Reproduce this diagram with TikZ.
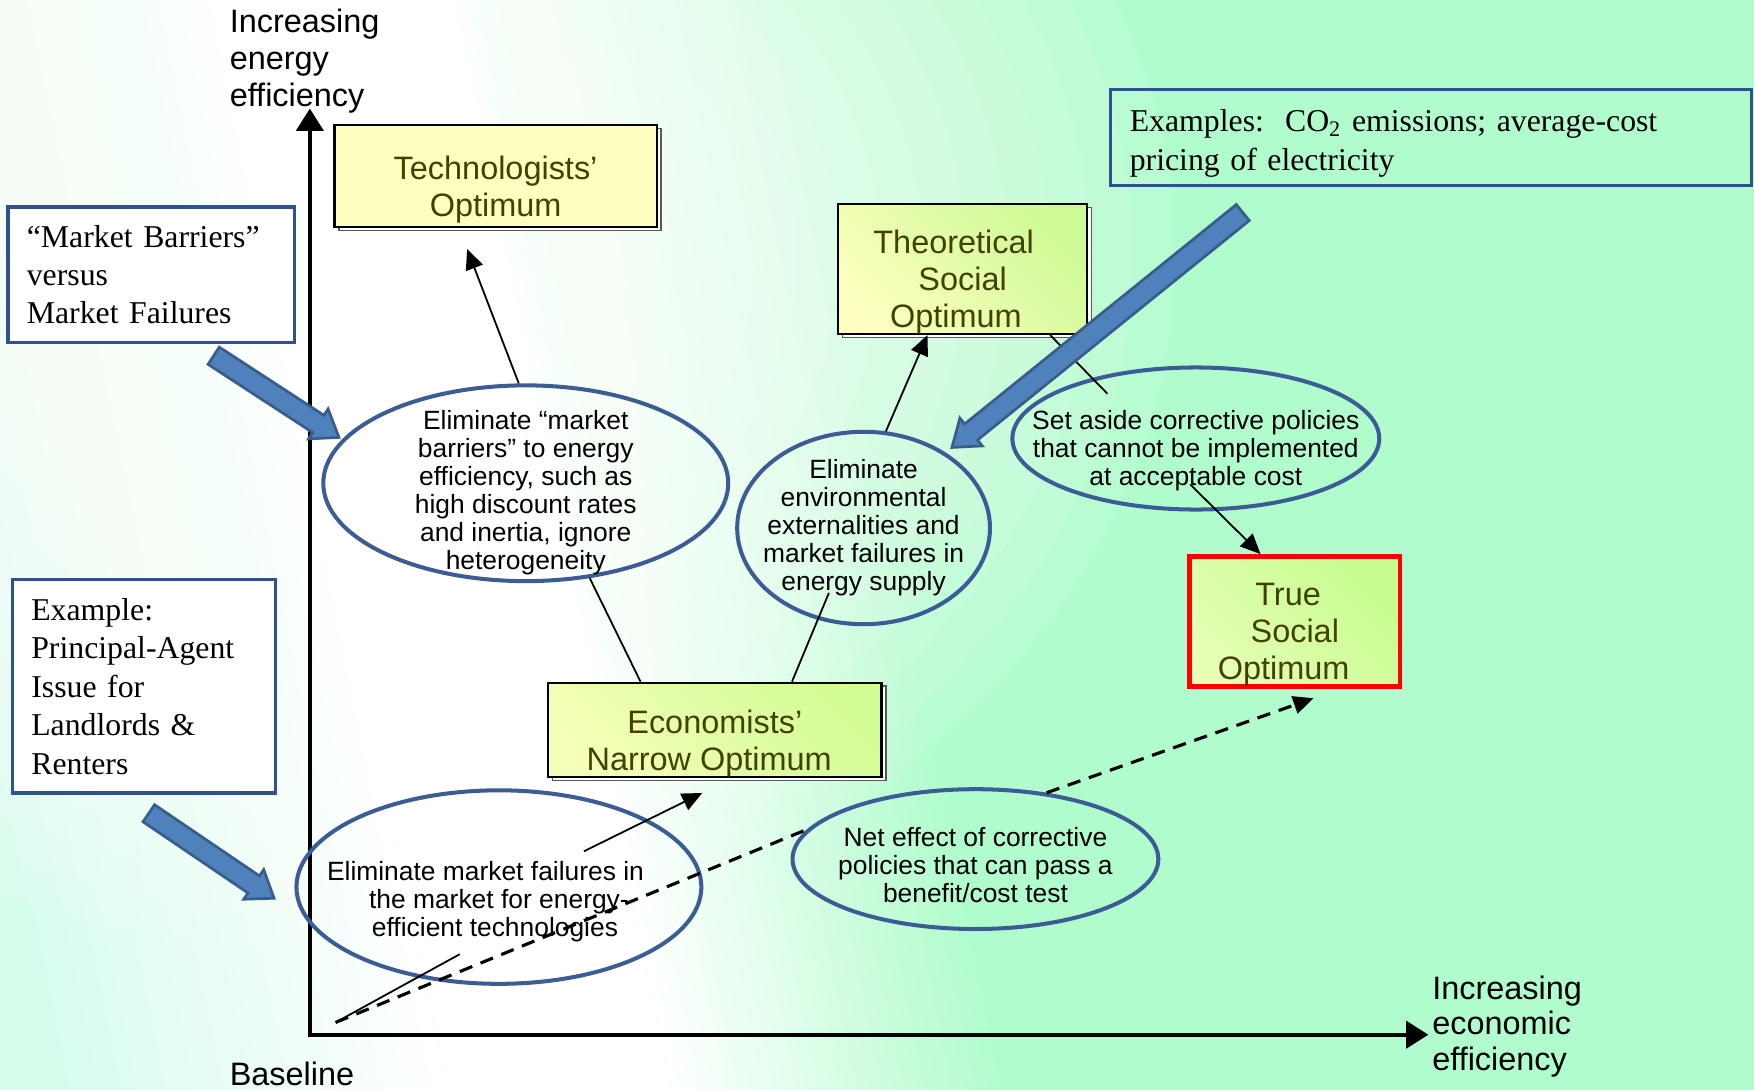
\documentclass[tikz,border=0pt]{standalone}
\usepackage{fontspec}
\setmainfont{Liberation Sans}
\newfontfamily\timesfont[Ligatures=TeX]{Liberation Serif}
\usepackage{tikz}
\usetikzlibrary{positioning,shapes.geometric,arrows.meta,calc,shadows}

\definecolor{bggreen}{RGB}{176,252,204}
\definecolor{bgcyan}{RGB}{214,252,236}
\definecolor{boxblue}{RGB}{47,82,143}
\definecolor{ellblue}{RGB}{60,92,150}
\definecolor{arrfill}{RGB}{79,129,189}
\definecolor{arrline}{RGB}{56,93,138}
\definecolor{opttext}{RGB}{66,66,0}
\definecolor{techfill}{RGB}{255,255,192}
\definecolor{theolo}{RGB}{252,255,190}
\definecolor{theohi}{RGB}{206,250,150}
\definecolor{econlo}{RGB}{244,255,184}
\definecolor{econhi}{RGB}{210,252,150}
\definecolor{truelo}{RGB}{230,255,180}
\definecolor{truehi}{RGB}{198,252,144}

% extra height on a first line pushes the text block down
\newcommand{\padtop}[1]{\rule{0pt}{#1}}

% fat block arrow from #1 to #2
\newcommand{\fatarrow}[2]{%
  \path ($(#2)!11pt!(#1)$) coordinate (fah);
  \draw[fatarr] ($(#1)!4.6pt!90:(#2)$) -- ($(fah)!4.6pt!90:(#2)$)
    -- ($(fah)!8pt!90:(#2)$) -- (#2) -- ($(fah)!8pt!-90:(#2)$)
    -- ($(fah)!4.6pt!-90:(#2)$) -- ($(#1)!4.6pt!-90:(#2)$) -- cycle;}

\tikzset{
  % --- axes and their labels -------------------------------------------------
  axisline/.style={line width=2pt,line join=miter,
    {Triangle[length=10pt,width=12pt]}-{Triangle[length=10pt,width=12pt]}},
  axlab/.style={align=left,inner sep=0pt,anchor=north west,
    font=\fontsize{14.5}{16.5}\selectfont},
  % --- optimum boxes ---------------------------------------------------------
  optcore/.style={rectangle,draw=black,line width=1pt,inner sep=0pt,
    align=center,text=opttext,font=\fontsize{14.5}{16.5}\selectfont},
  optbox/.style={optcore,copy shadow={shadow xshift=2pt,shadow yshift=-1.5pt,
    draw=black!65,line width=0.6pt,fill=white}},
  truebox/.style={optcore,draw=red,line width=2.2pt},
  optgrad/.style 2 args={bottom color=#1,top color=#2,shading angle=-45},
  % --- side notes ------------------------------------------------------------
  notebox/.style={rectangle,draw=boxblue,line width=1.5pt,inner xsep=8.5pt,
    inner ysep=0pt,align=left,font=\fontsize{14.2}{17.2}\timesfont},
  % --- policy ellipses -------------------------------------------------------
  ell/.style={ellipse,draw=ellblue,line width=1.8pt,inner sep=-25pt,
    align=center,font=\fontsize{11.8}{12.5}\selectfont},
  % --- connectors ------------------------------------------------------------
  link/.style={line width=0.8pt},
  linkarr/.style={link,-{Triangle[length=9pt,width=8pt]}},
  dashlink/.style={line width=1.4pt,dash pattern=on 6pt off 4pt},
  dasharr/.style={dashlink,-{Triangle[length=9pt,width=8pt]}},
  fatarr/.style={fill=arrfill,draw=arrline,line width=1.2pt,line join=miter},
}

\begin{document}
\begin{tikzpicture}[x=0.5pt,y=-0.5pt]
  \useasboundingbox (0,0) rectangle (1568,974);

  % background wash: cyan - white band - green, plus a white glow top left
  \begin{scope}
    \clip (0,0) rectangle (1568,974);
    \fill[bggreen] (0,0) rectangle (1568,974);
    \begin{scope}[transform canvas={shift={(300,0)},rotate=11.6}]
      \fill[bgcyan] (-3000,-2500) rectangle (-441,2500);
      \shade[left color=bgcyan,right color=white] (-441,-2500) rectangle (-98,2500);
      \fill[white] (-98,-2500) rectangle (98,2500);
      \shade[left color=white,right color=bggreen] (98,-2500) rectangle (392,2500);
    \end{scope}
    \coordinate (glowc) at (300,230);
    \foreach \k in {1,...,20}
      \fill[white,opacity=0.1] (glowc) ellipse [x radius=37.5*\k, y radius=31*\k];
  \end{scope}

  % axes
  \coordinate (orig) at (277,925);
  \coordinate (ytip) at (277,97);
  \coordinate (xtip) at (1277,925);
  \draw[axisline] (ytip) -- (orig) -- (xtip);
  \node[axlab] (ylab) at (205,8) {Increasing\\energy\\efficiency};
  \node[axlab,font=\fontsize{14.5}{15.8}\selectfont] (xlab) at (1280,872)
    {Increasing\\economic\\efficiency};
  \node[axlab] (baselab) at (205,949) {Baseline};

  % optimum boxes
  \node[optbox,fill=techfill,minimum width=144pt,minimum height=45.5pt]
    (tech) at (443,157.5) {\padtop{22.6pt}Technologists'\\Optimum};
  \node[optbox,optgrad={theolo}{theohi},minimum width=111.5pt,minimum height=57.5pt]
    (theo) at (860.5,240.5) {\padtop{22pt}Theoretical\hspace*{8pt}\\Social\hspace*{6pt}\\Optimum\hspace*{6pt}};
  \node[optbox,optgrad={econlo}{econhi},minimum width=149pt,minimum height=40.5pt]
    (econ) at (639,652.5) {\padtop{22.6pt}Economists'\\Narrow Optimum\hspace*{5pt}};
  \node[truebox,optgrad={truelo}{truehi},minimum width=94pt,minimum height=56pt]
    (truesoc) at (1157.5,555.5) {\padtop{22pt}True\hspace*{6pt}\\Social\hspace*{10pt}\\Optimum\hspace*{10pt}};

  % side notes
  \node[notebox,fill=white,text width=111pt,minimum height=60.5pt]
    (mbbox) at (135,245.5) {``Market Barriers''\\versus\\Market Failures};
  \node[notebox,fill=white,text width=100.5pt,minimum height=95.5pt]
    (exbox) at (128.5,613.5) {Example:\\Principal-Agent\\Issue for\\Landlords \&\\Renters};
  \node[notebox,text width=269.5pt,minimum height=43pt]
    (co2box) at (1279.5,123)
    {\padtop{15pt}Examples:\ \ CO\textsubscript{2} emissions; average-cost\\pricing of electricity};

  % policy ellipses
  \node[ell,minimum width=181pt,minimum height=87.5pt] (e1) at (470,432)
    {\padtop{17.1pt}Eliminate ``market\\barriers'' to energy\\efficiency, such as\\
     high discount rates\\and inertia, ignore\\heterogeneity};
  \node[ell,minimum width=113pt,minimum height=86pt] (e2) at (772,472)
    {Eliminate\\environmental\\externalities and\\market failures in\\energy supply};
  \node[ell,minimum width=164pt,minimum height=63.5pt] (e3) at (1069,392)
    {\padtop{19.6pt}Set aside corrective policies\\that cannot be implemented\\at acceptable cost};
  \node[ell,minimum width=181pt,minimum height=86.5pt] (e4) at (446,793)
    {\padtop{21.6pt}Eliminate market failures in\hspace*{12pt}\\
     the market for energy-\hspace*{18pt}\\efficient technologies\hspace*{3.5pt}};
  \node[ell,minimum width=163.5pt,minimum height=62.5pt] (e5) at (872,768)
    {\padtop{13.6pt}Net effect of corrective\\policies that can pass a\\benefit/cost test};

  % connectors
  \coordinate (base) at (300,914);
  \coordinate (e4a) at (411,853);
  \coordinate (e4b) at (522,761);
  \coordinate (e2bot) at (741,530);
  \coordinate (e3top) at (990,352);
  \coordinate (e3bot) at (1064,433);
  \draw[link] (base) -- (e4a);
  \draw[linkarr,shorten >=15pt] (e4b) -- (econ.-70);
  \draw[dashlink] (base) -- (e5.170);
  \draw[dasharr,shorten >=12.7pt] (e5.43) -- (truesoc.-56);
  \draw[link] (econ.147) -- (e1.-56);
  \draw[linkarr,shorten >=10pt] (e1.94) -- (tech.-125);
  \draw[link] (econ.32) -- (e2bot);
  \draw[linkarr] (e2.77) -- (theo.-118);
  \draw[link] (theo.-37) -- (e3top);
  \draw[linkarr] (e3bot) -- (truesoc.117);

  % blue pointers from the notes
  \coordinate (mbtail) at (191,318);  \coordinate (mbtip) at (303,391);
  \coordinate (extail) at (133,727);  \coordinate (extip) at (245,803);
  \coordinate (co2tail) at (1111,190); \coordinate (co2tip) at (851,400);
  \fatarrow{mbtail}{mbtip}
  \fatarrow{extail}{extip}
  \fatarrow{co2tail}{co2tip}
\end{tikzpicture}
\end{document}
